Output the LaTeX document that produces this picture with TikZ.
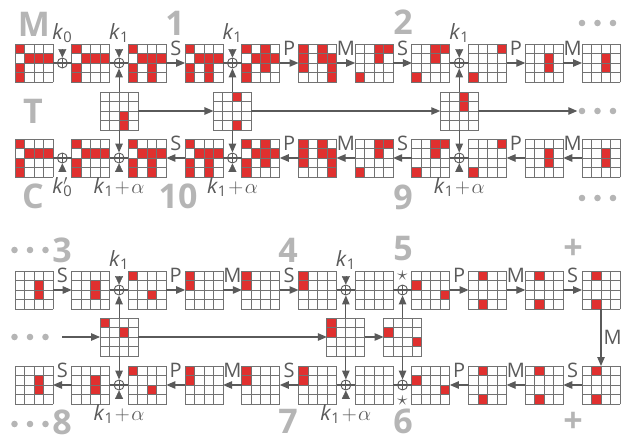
\documentclass[tikz,border=0pt]{standalone}
\usepackage{fontspec}
\setmainfont{Open Sans}
\usetikzlibrary{positioning, arrows.meta, calc}
\definecolor{hot}{HTML}{E0302F}
\definecolor{gridgray}{HTML}{727272}
\definecolor{ink}{HTML}{5A5A5A}
\definecolor{faint}{HTML}{B5B5B5}
\tikzset{
  statebox/.style={minimum size=38pt, inner sep=0pt, outer sep=0pt, fill=white},
  gridline/.style={gridgray, line width=0.95pt, line cap=rect},
  xorop/.style={circle, draw=ink, fill=white, line width=0.9pt, minimum size=10pt, inner sep=0pt,
    path picture={\draw[ink, line width=0.9pt]
      (path picture bounding box.north) -- (path picture bounding box.south)
      (path picture bounding box.west) -- (path picture bounding box.east);}},
  wire/.style={ink, line width=1.1pt},
  flow/.style={wire, -{Triangle[length=9pt,width=7.5pt]}},
  tipin/.style={ink, -{Triangle[length=8.5pt,width=8pt]}, shorten <=5.5pt},
  oplab/.style={text=ink, inner sep=1pt},
  opup/.style={oplab, above=6pt},
  klab/.style={text=ink, inner sep=1pt, font=\fontsize{21}{22}\selectfont},
  biglab/.style={text=faint, inner sep=0pt, font=\fontsize{34}{34}\selectfont\bfseries},
  dotsbox/.style={minimum width=40pt, minimum height=8pt, inner sep=0pt}
}
\newcommand{\cellgrid}[4]{%
  \node[statebox] (#1) at (#2,#3) {};
  \if\relax\detokenize{#4}\relax\else
    \foreach \ro/\co in {#4}
      \fill[hot] ($(#1.north west)+(\co*9.5,\ro*9.5)$) rectangle ++(9.5,9.5);
  \fi
  \foreach \i in {0,...,4} {
    \draw[gridline] ($(#1.north west)+(\i*9.5,0)$) -- ++(0,38);
    \draw[gridline] ($(#1.north west)+(0,\i*9.5)$) -- ++(38,0);
  }}
\newcommand{\gdots}[3]{%
  \node[dotsbox] (#1) at (#2,#3) {};
  \foreach \d in {-15.5,0,15.5} \fill[faint] ($(#1)+(\d,0)$) circle (3.3pt);}
\newcommand{\kone}{\textit{k}\textsubscript{1}}
\newcommand{\kalpha}{\textit{k}\textsubscript{1}\kern1.5pt$+$\kern1.5pt$\alpha$}

\begin{document}
\begin{tikzpicture}[x=1pt, y=-1pt, font=\fontsize{20}{22}\selectfont]
\useasboundingbox (0,0) rectangle (622,439);

\foreach \row/\yy in {A/63, C/158} {
  \cellgrid{\row0}{34}{\yy}{0/0,1/1,1/2,1/3,2/0,3/0}
  \cellgrid{\row1}{90.7}{\yy}{0/0,1/1,1/2,1/3,2/0,3/0}
  \cellgrid{\row2}{147.4}{\yy}{0/0,1/1,1/2,1/3,2/0,2/2,3/0,3/2}
  \cellgrid{\row3}{204.1}{\yy}{0/0,1/1,1/2,1/3,2/0,2/2,3/0,3/2}
  \cellgrid{\row4}{260.8}{\yy}{0/0,0/2,1/1,1/2,1/3,2/0,2/2,3/0}
  \cellgrid{\row5}{317.5}{\yy}{0/0,0/2,1/0,1/2,1/3,2/0,2/3,3/3}
  \cellgrid{\row6}{374.2}{\yy}{0/2,0/3,1/2,3/0}
  \cellgrid{\row7}{430.9}{\yy}{0/2,0/3,1/2,3/0}
  \cellgrid{\row8}{487.6}{\yy}{0/3,3/0}
  \cellgrid{\row9}{544.3}{\yy}{1/2,2/2}
  \cellgrid{\row10}{601}{\yy}{1/2,2/2}
}
\foreach \row/\yy in {B/290, D/385} {
  \cellgrid{\row0}{34}{\yy}{1/2,2/2}
  \cellgrid{\row1}{90.7}{\yy}{1/2,2/2}
  \cellgrid{\row2}{147.4}{\yy}{0/0,2/2}
  \cellgrid{\row3}{204.1}{\yy}{0/0,1/0}
  \cellgrid{\row4}{260.8}{\yy}{0/0,1/0}
  \cellgrid{\row5}{317.5}{\yy}{0/0,1/0}
  \cellgrid{\row6}{374.2}{\yy}{}
  \cellgrid{\row7}{430.9}{\yy}{1/0,2/3}
  \cellgrid{\row8}{487.6}{\yy}{0/1,3/1}
  \cellgrid{\row9}{544.3}{\yy}{0/1,3/1}
  \cellgrid{\row10}{601}{\yy}{0/1,3/1}
}
\cellgrid{K1}{119.05}{111}{2/2,3/2}
\cellgrid{K2}{232.45}{111}{0/2,3/2}
\cellgrid{K3}{459.25}{111}{0/2,1/2}
\cellgrid{L1}{119.05}{337}{0/0,1/2}
\cellgrid{L2}{345.85}{337}{0/0,1/0}
\cellgrid{L3}{402.55}{337}{1/0,2/3}

\foreach \row/\yy in {A/63, C/158}
  \foreach \n/\xx in {0/62.35, 1/119.05, 3/232.45, 7/459.25}
    \node[xorop] (x\row\n) at (\xx,\yy) {};
\foreach \row/\yy in {B/290, D/385}
  \foreach \n/\xx in {1/119.05, 5/345.85, 6/402.55}
    \node[xorop] (x\row\n) at (\xx,\yy) {};

\foreach \p/\q in {0/1, 1/2, 3/4, 7/8} {
  \draw[wire] (A\p) -- (A\q);
  \draw[wire] (C\q) -- (C\p);
}
\foreach \p/\q/\op in {2/3/S, 4/5/P, 5/6/M, 6/7/S, 8/9/P, 9/10/M} {
  \draw[flow] (A\p) -- node[opup] {\op} (A\q);
  \draw[flow] (C\q) -- node[opup] {\op} (C\p);
}
\foreach \p/\q in {1/2, 5/6, 6/7} {
  \draw[wire] (B\p) -- (B\q);
  \draw[wire] (D\q) -- (D\p);
}
\foreach \p/\q/\op in {0/1/S, 2/3/P, 3/4/M, 4/5/S, 7/8/P, 8/9/M, 9/10/S} {
  \draw[flow] (B\p) -- node[opup] {\op} (B\q);
  \draw[flow] (D\q) -- node[opup] {\op} (D\p);
}
\draw[flow] (B10) -- node[oplab, right=2pt, inner sep=0pt] {M} (D10);

\gdots{d1}{597.5}{23}
\gdots{d2}{597.5}{111}
\gdots{d3}{597.5}{198}
\gdots{d4}{30}{250}
\gdots{d5}{30}{337}
\gdots{d6}{30}{424}

\foreach \k/\n in {K1/1, K2/3, K3/7} {
  \draw[flow] (\k) -- (xA\n);
  \draw[flow] (\k) -- (xC\n);
}
\draw[flow] (K1) -- (K2);
\draw[flow] (K2) -- (K3);
\draw[flow] (K3) -- (d2);
\foreach \k/\n in {L1/1, L2/5, L3/6} {
  \draw[flow] (\k) -- (xB\n);
  \draw[flow] (\k) -- (xD\n);
}
\draw[flow, shorten <=12pt] (d5) -- (L1);
\draw[flow] (L1) -- (L2);
\draw[flow] (L2) -- (L3);

\node[klab, anchor=south] (kA0) at (62.35,44) {\textit{k}\textsubscript{0}};
\node[klab, anchor=north] (kC0) at (62.35,176) {\textit{k}\rlap{$'$}\textsubscript{0}};
\foreach \n/\xx in {1/119.05, 3/232.45, 7/459.25} {
  \node[klab, anchor=south] (kA\n) at (\xx,44) {\kone};
  \node[klab, anchor=north] (kC\n) at (\xx,176) {\kalpha};
}
\foreach \n/\xx in {1/119.05, 5/345.85} {
  \node[klab, anchor=south] (kB\n) at (\xx,271) {\kone};
  \node[klab, anchor=north] (kD\n) at (\xx,403) {\kalpha};
  \draw[tipin] (kB\n) -- (xB\n);
  \draw[tipin] (kD\n) -- (xD\n);
}
\foreach \n in {0, 1, 3, 7} {
  \draw[tipin] (kA\n) -- (xA\n);
  \draw[tipin] (kC\n) -- (xC\n);
}
\node[klab] (sB6) at (402.55,276) {$\star$};
\node[klab] (sD6) at (402.55,401) {$\star$};

\node[biglab] (lM) at (34,24.5) {M};
\node[biglab] (lT) at (33,111) {T};
\node[biglab] (lC) at (33,196) {C};
\node[biglab] (l1) at (175,23) {1};
\node[biglab] (l2) at (403,22.5) {2};
\node[biglab] (l10) at (178,196) {10};
\node[biglab] (l9) at (403,197) {9};
\node[biglab] (l3) at (62,250) {3};
\node[biglab] (l4) at (288,250) {4};
\node[biglab] (l5) at (403,249) {5};
\node[biglab] (lp1) at (573,249) {+};
\node[biglab] (l8) at (62,422) {8};
\node[biglab] (l7) at (288,421) {7};
\node[biglab] (l6) at (403,421) {6};
\node[biglab] (lp2) at (573,422) {+};
\end{tikzpicture}
\end{document}
